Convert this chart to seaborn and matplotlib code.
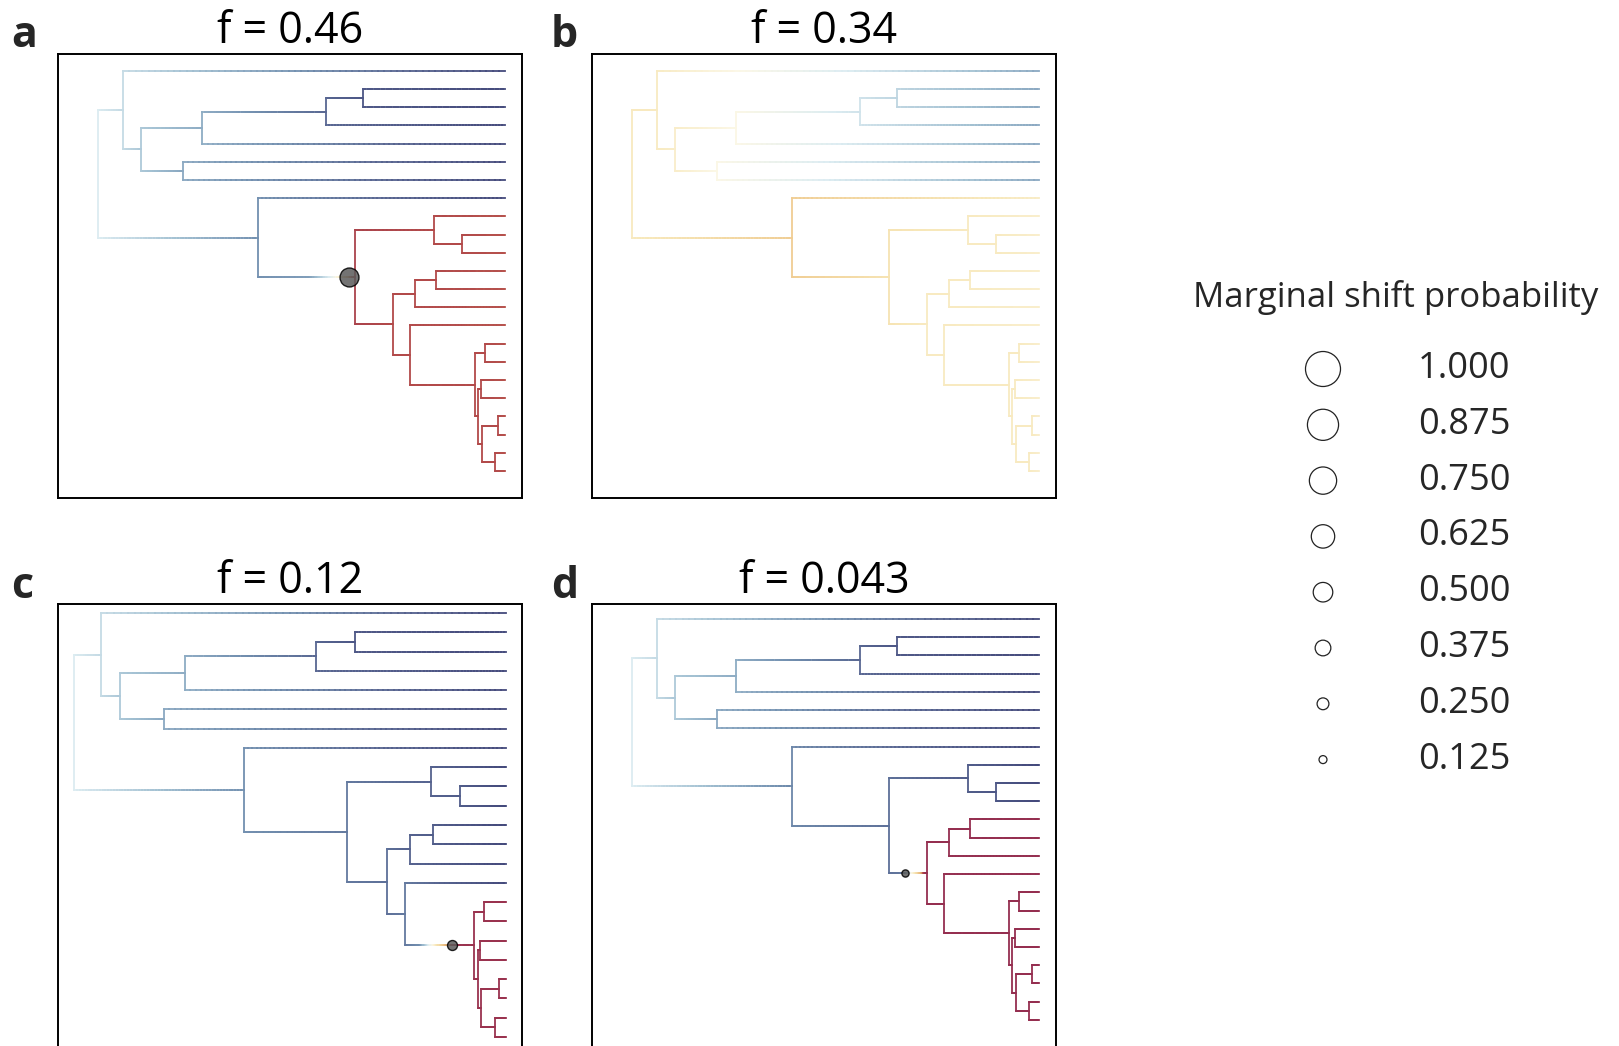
import numpy as np
import pandas as pd
import matplotlib
matplotlib.use("Agg")
import matplotlib.pyplot as plt
import seaborn as sns
from matplotlib.collections import LineCollection
from matplotlib.colors import LinearSegmentedColormap

sns.set_theme(style="white")
plt.rcParams['font.family'] = ['Open Sans', 'DejaVu Sans']

# ---------------- data ----------------
# tree topology (internal node -> two children), node depths (root = 0, tips = 100)
node_names = ['N0', 'N1', 'N2', 'N3', 'N4', 'N5', 'N6', 'N7', 'N8', 'N9', 'N10',
              'N11', 'N12', 'N13', 'N14', 'N15', 'N16', 'N17', 'N18', 'N19', 'N20', 'N21']
node_children = [('N1', 'N7'), ('t1', 'N2'), ('N3', 'N6'), ('N4', 't5'), ('N5', 't4'),
                 ('t2', 't3'), ('t6', 't7'), ('t8', 'N8'), ('N9', 'N11'), ('t9', 'N10'),
                 ('t10', 't11'), ('N12', 'N14'), ('N13', 't14'), ('t12', 't13'),
                 ('t15', 'N15'), ('N16', 'N17'), ('t16', 't17'), ('N18', 'N19'),
                 ('t18', 't19'), ('N20', 'N21'), ('t20', 't21'), ('t22', 't23')]
node_depth = [0.0, 6.1, 10.5, 25.6, 55.9, 65.0, 20.7, 39.2, 63.1, 82.6, 89.3,
              72.4, 77.8, 83.0, 76.6, 92.6, 95.0, 93.4, 94.0, 94.3, 98.3, 97.5]
tip_names = ['t%d' % i for i in range(1, 24)]
tip_depth = 100.0

panel_letters = ['a', 'b', 'c', 'd']
panel_titles = ['f = 0.46', 'f = 0.34', 'f = 0.12', 'f = 0.043']

# rate colour value (0 = slow / navy, 1 = fast / dark red) at each internal node
rate_nodes_a = [.42, .38, .34, .28, .13, .08, .27, .22, .86, .83, .83,
                .83, .83, .83, .83, .83, .83, .83, .83, .83, .83, .83]
rate_nodes_b = [.57, .565, .55, .50, .40, .37, .50, .65, .59, .565, .565,
                .565, .565, .565, .565, .565, .565, .565, .565, .565, .565, .565]
rate_nodes_c = [.42, .38, .34, .28, .13, .08, .27, .22, .17, .12, .10,
                .15, .12, .10, .17, .93, .93, .93, .93, .93, .93, .93]
rate_nodes_d = [.42, .38, .34, .28, .13, .08, .27, .20, .15, .10, .08,
                .95, .95, .95, .95, .95, .95, .95, .95, .95, .95, .95]
# rate value at each tip
rate_tips_a = [.03] * 8 + [.82] * 15
rate_tips_b = [.27] * 7 + [.56] + [.545] * 15
rate_tips_c = [.03] * 15 + [.93] * 8
rate_tips_d = [.03] * 11 + [.95] * 12

# rate shift: branch (child node), position, marginal probability, colour ramp along branch
shift_node = ['N8', None, 'N15', 'N11']
shift_pos = [61.6, None, 87.4, 66.9]
shift_prob = [0.48, None, 0.19, 0.10]
shift_ramp_x = [[39.2, 52.0, 57.7, 60.6, 61.6, 63.1], None,
                [76.6, 80.1, 82.4, 84.3, 86.3, 88.2, 92.6],
                [63.1, 66.9, 68.5, 69.8, 71.0, 72.0, 72.4]]
shift_ramp_v = [[.22, .25, .45, .62, .72, .86], None,
                [.17, .22, .45, .60, .70, .93, .93],
                [.15, .17, .47, .60, .70, .93, .95]]

legend_values = [1.000, 0.875, 0.750, 0.625, 0.500, 0.375, 0.250, 0.125]
legend_title = 'Marginal shift probability'

# ---------------- style / layout ----------------
cmap = LinearSegmentedColormap.from_list('rates', [
    (0.00, '#3e4175'), (0.12, '#55638f'), (0.22, '#7290b0'), (0.32, '#a2c0d2'),
    (0.42, '#dcecf1'), (0.50, '#fbf7e6'), (0.58, '#f7e7b8'), (0.66, '#efca8e'),
    (0.74, '#dc9c68'), (0.83, '#b24a4a'), (0.95, '#962f50'), (1.00, '#8a2852')])

W, H = 1619, 1046
fig = plt.figure(figsize=(W / 100, H / 100), dpi=100)

box_w, box_h = 464, 444
panel_px = [(58, 54), (592, 54), (58, 604), (592, 604)]
panel_xlim = [(-9.9, 104.1), (-9.9, 104.1), (-3.8, 103.7), (-9.9, 104.1)]
panel_ylim = [(23.48, -0.92), (23.48, -0.92), (22.57, -0.47), (23.54, -0.82)]
label_px = [(11, 47), (551, 47), (11, 598), (551, 598)]
rate_nodes_all = [rate_nodes_a, rate_nodes_b, rate_nodes_c, rate_nodes_d]
rate_tips_all = [rate_tips_a, rate_tips_b, rate_tips_c, rate_tips_d]

LW = 1.3


def diam_pt(p):
    return (4.1 + 30.9 * p) * 0.72


# layout of tips and nodes
children = dict(zip(node_names, node_children))
depth = dict(zip(node_names, node_depth))
for t in tip_names:
    depth[t] = tip_depth
ypos = {t: i for i, t in enumerate(tip_names)}


def get_y(n):
    if n in ypos:
        return ypos[n]
    c0, c1 = children[n]
    ypos[n] = (get_y(c0) + get_y(c1)) / 2
    return ypos[n]


get_y('N0')
parent = {}
for n, (c0, c1) in children.items():
    parent[c0] = n
    parent[c1] = n

for k in range(4):
    left, top = panel_px[k]
    ax = fig.add_axes([left / W, 1 - (top + box_h) / H, box_w / W, box_h / H])
    rate = dict(zip(node_names, rate_nodes_all[k]))
    rate.update(dict(zip(tip_names, rate_tips_all[k])))

    segs, vals = [], []
    for child, par in parent.items():
        x0, x1, y = depth[par], depth[child], ypos[child]
        if shift_node[k] == child:
            kx, kv = shift_ramp_x[k], shift_ramp_v[k]
        else:
            kx, kv = [x0, x1], [rate[par], rate[child]]
        n = 60
        xs = np.linspace(x0, x1, n + 1)
        vs = np.interp((xs[:-1] + xs[1:]) / 2, kx, kv)
        for i in range(n):
            segs.append([(xs[i], y), (xs[i + 1], y)])
            vals.append(vs[i])
    for nd, (c0, c1) in children.items():
        segs.append([(depth[nd], ypos[c0]), (depth[nd], ypos[c1])])
        vals.append(rate[nd])
    lc = LineCollection(segs, colors=cmap(np.array(vals)), linewidths=LW,
                        capstyle='projecting')
    ax.add_collection(lc)

    if shift_node[k] is not None:
        df = pd.DataFrame({'x': [shift_pos[k]], 'y': [ypos[shift_node[k]]]})
        sns.scatterplot(data=df, x='x', y='y', ax=ax, s=diam_pt(shift_prob[k]) ** 2,
                        color='#5a5a5a', alpha=0.85, edgecolor='black',
                        linewidth=1.0, zorder=5, legend=False)

    ax.set_xlim(*panel_xlim[k])
    ax.set_ylim(*panel_ylim[k])
    ax.set_xticks([])
    ax.set_yticks([])
    ax.set_xlabel('')
    ax.set_ylabel('')
    for sp in ax.spines.values():
        sp.set_visible(True)
        sp.set_color('black')
        sp.set_linewidth(1.4)
    ax.set_title(panel_titles[k], fontsize=31, pad=4, color='black')
    fig.text(label_px[k][0] / W, 1 - label_px[k][1] / H, panel_letters[k],
             fontsize=31, fontweight='bold', va='baseline', ha='left')

# ---------------- legend ----------------
lx0, ly0, lw_, lh_ = 1170, 260, 449, 530
lax = fig.add_axes([lx0 / W, 1 - (ly0 + lh_) / H, lw_ / W, lh_ / H])
lax.set_xlim(lx0, lx0 + lw_)
lax.set_ylim(ly0 + lh_, ly0)
lax.axis('off')
row_y = [369 + 55.8 * i for i in range(len(legend_values))]
ldf = pd.DataFrame({'x': [1323] * len(legend_values), 'y': row_y, 'p': legend_values})
sns.scatterplot(data=ldf, x='x', y='y', ax=lax, s=[diam_pt(p) ** 2 for p in legend_values],
                facecolor='white', edgecolor='#222222', linewidth=0.9, legend=False)
for yv, p in zip(row_y, legend_values):
    lax.text(1418, yv, '%.3f' % p, fontsize=26, va='center', ha='left')
lax.text(1396, 307, legend_title, fontsize=25, va='baseline', ha='center')
lax.set_xlabel('')
lax.set_ylabel('')

fig.savefig('out.png', dpi=100)
